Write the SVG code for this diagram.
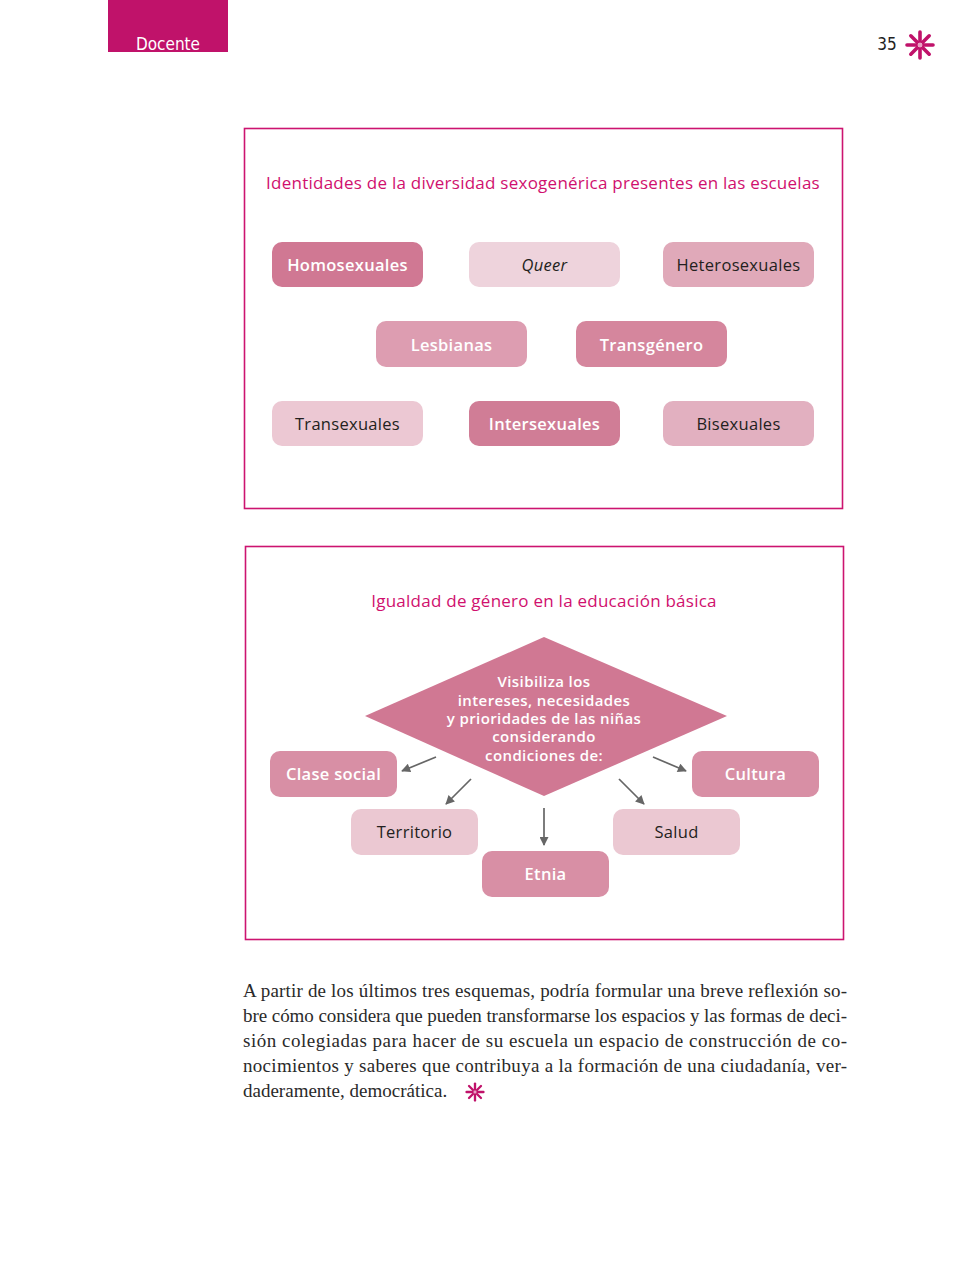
<svg xmlns="http://www.w3.org/2000/svg" width="969" height="1276" viewBox="0 0 969 1276">
<defs>
<style>
.frame{fill:none;stroke:#cc1470;stroke-width:1.6}
.title{font-family:"Open Sans",Lato,sans-serif;font-size:17px;letter-spacing:0.25px;fill:#d0106e;text-anchor:middle}
.lbl{font-family:"Open Sans",Lato,sans-serif;font-size:16.5px;letter-spacing:0.3px;text-anchor:middle}
.w{fill:#ffffff;font-weight:600}
.k{fill:#231f20}
.dia{font-family:"Open Sans",Lato,sans-serif;font-size:15px;font-weight:600;letter-spacing:0.4px;fill:#ffffff;text-anchor:middle}
.conn line{stroke:#666666;stroke-width:1.7}
.body{font-family:"Liberation Serif",serif;font-size:19px;fill:#2a2a2a}
.star line{stroke:#c0126a;stroke-width:3.6;stroke-linecap:round}
</style>
<marker id="ah" viewBox="0 0 10 10" refX="9" refY="5" markerWidth="10" markerHeight="9" orient="auto" markerUnits="userSpaceOnUse">
<path d="M0,0 L10,5 L0,10 z" fill="#666666"/>
</marker>
<g id="starShape" class="star">
<line x1="0" y1="-13" x2="0" y2="13"/>
<line x1="-13" y1="0" x2="13" y2="0"/>
<line x1="-9.2" y1="-9.2" x2="9.2" y2="9.2"/>
<line x1="-9.2" y1="9.2" x2="9.2" y2="-9.2"/>
<circle cx="0" cy="0" r="3" fill="#e9a3c4" stroke="#c0126a" stroke-width="1"/>
</g>
</defs>
<rect width="969" height="1276" fill="#ffffff"/>

<g id="header">
<rect x="108" y="0" width="120" height="52" fill="#c0126a"/>
<text x="168" y="50" font-family="'DejaVu Sans Condensed','DejaVu Sans',sans-serif" font-stretch="condensed" font-size="17" fill="#ffffff" text-anchor="middle">Docente</text>
<text x="887" y="50" font-family="'DejaVu Sans Condensed','DejaVu Sans',sans-serif" font-stretch="condensed" font-size="17" fill="#222222" text-anchor="middle">35</text>
<use href="#starShape" transform="translate(920,45)"/>
</g>

<g id="diagram1">
<rect class="frame" x="244.5" y="128.5" width="598" height="380"/>
<text class="title" x="543" y="189">Identidades de la diversidad sexogenérica presentes en las escuelas</text>
<g id="n-homosexuales"><rect x="272" y="242" width="151" height="45" rx="10" fill="#d07893"/><text class="lbl w" x="347.5" y="271">Homosexuales</text></g>
<g id="n-queer"><rect x="469" y="242" width="151" height="45" rx="10" fill="#eed3dc"/><text class="lbl k" x="544.5" y="271" font-style="italic">Queer</text></g>
<g id="n-heterosexuales"><rect x="663" y="242" width="151" height="45" rx="10" fill="#e0a9b9"/><text class="lbl k" x="738.5" y="271">Heterosexuales</text></g>
<g id="n-lesbianas"><rect x="376" y="321" width="151" height="46" rx="10" fill="#dd9db1"/><text class="lbl w" x="451.5" y="350.5">Lesbianas</text></g>
<g id="n-transgenero"><rect x="576" y="321" width="151" height="46" rx="10" fill="#d5869d"/><text class="lbl w" x="651.5" y="350.5">Transgénero</text></g>
<g id="n-transexuales"><rect x="272" y="401" width="151" height="45" rx="10" fill="#ecc8d3"/><text class="lbl k" x="347.5" y="430">Transexuales</text></g>
<g id="n-intersexuales"><rect x="469" y="401" width="151" height="45" rx="10" fill="#d07d96"/><text class="lbl w" x="544.5" y="430">Intersexuales</text></g>
<g id="n-bisexuales"><rect x="663" y="401" width="151" height="45" rx="10" fill="#e2b0c0"/><text class="lbl k" x="738.5" y="430">Bisexuales</text></g>
</g>

<g id="diagram2">
<rect class="frame" x="245.5" y="546.5" width="598" height="393"/>
<text class="title" x="544" y="607">Igualdad de género en la educación básica</text>
<g id="n-center">
<polygon points="544,637 727,716 544,796 365,716" fill="#d07893"/>
<text class="dia" x="544" y="687">Visibiliza los</text>
<text class="dia" x="544" y="706">intereses, necesidades</text>
<text class="dia" x="544" y="724">y prioridades de las niñas</text>
<text class="dia" x="544" y="742">considerando</text>
<text class="dia" x="544" y="761">condiciones de:</text>
</g>
<g id="n-clase"><rect x="270" y="751" width="127" height="46" rx="10" fill="#d88fa5"/><text class="lbl w" x="333.5" y="780">Clase social</text></g>
<g id="n-cultura"><rect x="692" y="751" width="127" height="46" rx="10" fill="#d88fa5"/><text class="lbl w" x="755.5" y="780">Cultura</text></g>
<g id="n-territorio"><rect x="351" y="809" width="127" height="46" rx="10" fill="#ebc8d2"/><text class="lbl k" x="414.5" y="838">Territorio</text></g>
<g id="n-salud"><rect x="613" y="809" width="127" height="46" rx="10" fill="#ebc8d2"/><text class="lbl k" x="676.5" y="838">Salud</text></g>
<g id="n-etnia"><rect x="482" y="851" width="127" height="46" rx="10" fill="#d88fa5"/><text class="lbl w" x="545.5" y="880">Etnia</text></g>
<g id="connectors" class="conn">
<line x1="436" y1="757" x2="402" y2="771" marker-end="url(#ah)"/>
<line x1="471" y1="779" x2="446" y2="804" marker-end="url(#ah)"/>
<line x1="544" y1="808" x2="544" y2="845" marker-end="url(#ah)"/>
<line x1="619" y1="779" x2="644" y2="804" marker-end="url(#ah)"/>
<line x1="653" y1="757" x2="686" y2="771" marker-end="url(#ah)"/>
</g>
</g>

<g id="paragraph">
<text class="body" x="243" y="997" textLength="604" lengthAdjust="spacing">A partir de los últimos tres esquemas, podría formular una breve reflexión so-</text>
<text class="body" x="243" y="1022" textLength="604" lengthAdjust="spacing">bre cómo considera que pueden transformarse los espacios y las formas de deci-</text>
<text class="body" x="243" y="1047" textLength="604" lengthAdjust="spacing">sión colegiadas para hacer de su escuela un espacio de construcción de co-</text>
<text class="body" x="243" y="1072" textLength="604" lengthAdjust="spacing">nocimientos y saberes que contribuya a la formación de una ciudadanía, ver-</text>
<text class="body" x="243" y="1097">daderamente, democrática.</text>
<use href="#starShape" transform="translate(475,1092) scale(0.65)"/>
</g>
</svg>
